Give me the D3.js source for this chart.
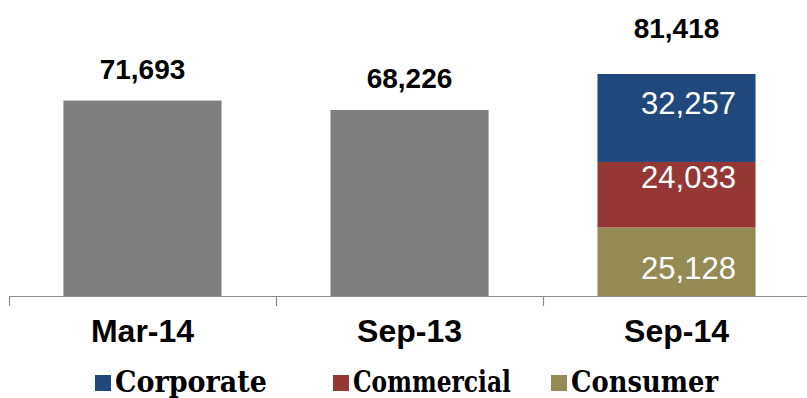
<!DOCTYPE html>
<html>
<head>
<meta charset="utf-8">
<script src="https://cdn.jsdelivr.net/npm/d3@7"></script>
<style>
  html, body { margin: 0; padding: 0; background: #fff; }
  svg { display: block; }
</style>
</head>
<body>
<svg id="chart" width="807" height="398"></svg>
<script>
// Periods on the x axis
const periods = ["Mar-14", "Sep-13", "Sep-14"];
// Totals for each period
const totals = [71693, 68226, 81418];
// Segment breakdown of the last period (bottom to top)
const segments = ["Consumer", "Commercial", "Corporate"];
const segmentValues = [25128, 24033, 32257];
// Legend order
const legendOrder = ["Corporate", "Commercial", "Consumer"];

const colors = {
  total: "#7f7f7f",
  Corporate: "#1f497d",
  Commercial: "#953735",
  Consumer: "#948a54"
};

const svg = d3.select("#chart");
const W = 807, H = 398;
const margin = { left: 9, right: -3, baseline: 296 };

const x = d3.scaleBand()
  .domain(periods)
  .range([margin.left, W - margin.right])
  .paddingInner(0.408)
  .paddingOuter(0.204);

const y = d3.scaleLinear()
  .domain([0, 81418])
  .range([margin.baseline, 74]);

const fmt = d3.format(",");

// Plain grey bars for the first two periods
const plain = periods.slice(0, 2).map((p, i) => ({ p, v: totals[i] }));
svg.selectAll("rect.plain")
  .data(plain)
  .join("rect")
  .attr("class", "plain")
  .attr("x", d => x(d.p))
  .attr("width", x.bandwidth())
  .attr("y", d => y(d.v))
  .attr("height", d => y(0) - y(d.v))
  .attr("fill", colors.total);

// Stacked bar for the last period
const last = periods[2];
let acc = 0;
const stack = segments.map((s, i) => {
  const d = { s, v: segmentValues[i], y0: acc, y1: acc + segmentValues[i] };
  acc += segmentValues[i];
  return d;
});
svg.selectAll("rect.seg")
  .data(stack)
  .join("rect")
  .attr("class", "seg")
  .attr("x", x(last))
  .attr("width", x.bandwidth())
  .attr("y", d => y(d.y1))
  .attr("height", d => y(d.y0) - y(d.y1))
  .attr("fill", d => colors[d.s]);

// Segment value labels (white, inside the stack)
const segLabelShift = { Consumer: 6, Commercial: -18, Corporate: -15 };
svg.selectAll("text.seglab")
  .data(stack)
  .join("text")
  .attr("class", "seglab")
  .attr("x", x(last) + x.bandwidth() / 2 + 12)
  .attr("y", d => (y(d.y0) + y(d.y1)) / 2 + 11 + segLabelShift[d.s])
  .attr("text-anchor", "middle")
  .attr("font-family", "'Liberation Sans', Arial, sans-serif")
  .attr("font-size", 31)
  .attr("fill", "#fff")
  .text(d => fmt(d.v));

// Total labels above each bar
const totalGap = [22, 22, 36];
svg.selectAll("text.tot")
  .data(periods.map((p, i) => ({ p, v: totals[i], gap: totalGap[i] })))
  .join("text")
  .attr("class", "tot")
  .attr("x", d => x(d.p) + x.bandwidth() / 2)
  .attr("y", d => y(d.v) - d.gap)
  .attr("text-anchor", "middle")
  .attr("font-family", "'Liberation Sans', Arial, sans-serif")
  .attr("font-weight", "bold")
  .attr("font-size", 28)
  .attr("fill", "#000")
  .text(d => fmt(d.v));

// Category axis
const axisColor = "#8c8c8c";
svg.append("line")
  .attr("x1", margin.left).attr("x2", W)
  .attr("y1", margin.baseline + 0.5).attr("y2", margin.baseline + 0.5)
  .attr("stroke", axisColor).attr("stroke-width", 1.2);

const step = x.step();
const tickXs = periods.map(p => x(p) - x.paddingInner() * step / 2);
svg.selectAll("line.tick")
  .data(tickXs)
  .join("line")
  .attr("class", "tick")
  .attr("x1", d => Math.round(d) + 0.5).attr("x2", d => Math.round(d) + 0.5)
  .attr("y1", margin.baseline).attr("y2", margin.baseline + 10)
  .attr("stroke", axisColor).attr("stroke-width", 1.2);

svg.selectAll("text.cat")
  .data(periods)
  .join("text")
  .attr("class", "cat")
  .attr("x", d => x(d) + x.bandwidth() / 2)
  .attr("y", 342)
  .attr("text-anchor", "middle")
  .attr("font-family", "'Liberation Sans', Arial, sans-serif")
  .attr("font-weight", "bold")
  .attr("font-size", 32)
  .attr("fill", "#000")
  .text(d => d);

// Legend
const legendX = [95, 333, 551];
const legendTextW = [152, 158, 147];
const lg = svg.selectAll("g.legend")
  .data(legendOrder)
  .join("g")
  .attr("class", "legend")
  .attr("transform", (d, i) => `translate(${legendX[i]},0)`);
lg.append("rect")
  .attr("x", 0).attr("y", 375)
  .attr("width", 16).attr("height", 16)
  .attr("fill", d => colors[d]);
lg.append("text")
  .attr("x", 20).attr("y", 392)
  .attr("font-family", "'DejaVu Serif', 'Liberation Serif', serif")
  .attr("font-weight", "bold")
  .attr("font-size", 29)
  .attr("textLength", (d, i) => legendTextW[i])
  .attr("lengthAdjust", "spacingAndGlyphs")
  .attr("fill", "#000")
  .text(d => d);
</script>
</body>
</html>
